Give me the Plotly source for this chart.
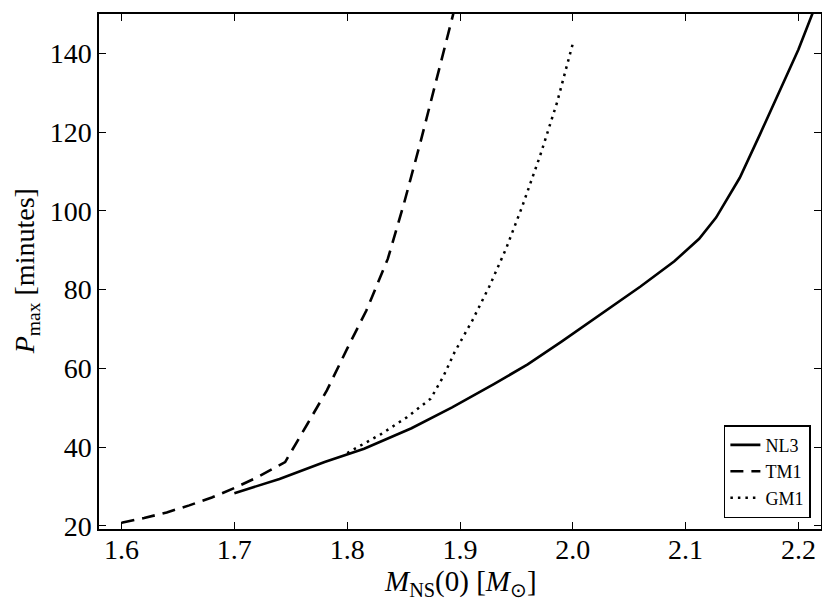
import plotly.graph_objects as go

# NL3 (solid)
nl3_x = [1.70, 1.74, 1.78, 1.815, 1.857, 1.893, 1.93, 1.96, 1.99, 2.03, 2.06, 2.09, 2.112, 2.127, 2.148, 2.166, 2.185, 2.20, 2.215]
nl3_y = [28.3, 31.9, 36.2, 39.6, 44.8, 50.1, 56.0, 61.0, 66.8, 74.7, 80.8, 87.2, 92.9, 98.3, 108.4, 119.5, 131.5, 141.0, 152.0]

# TM1 (dashed)
tm1_x = [1.60, 1.62, 1.64, 1.66, 1.68, 1.70, 1.72, 1.745, 1.765, 1.782, 1.80, 1.817, 1.836, 1.850, 1.865, 1.880, 1.894, 1.898]
tm1_y = [20.8, 22.0, 23.4, 25.2, 27.2, 29.6, 32.3, 36.2, 46.0, 54.4, 65.0, 74.7, 87.8, 101.5, 117.5, 134.0, 150.0, 155.0]

# GM1 (dotted)
gm1_x = [1.80, 1.83, 1.853, 1.874, 1.885, 1.895, 1.911, 1.926, 1.941, 1.955, 1.971, 1.986, 2.0]
gm1_y = [38.5, 43.3, 47.6, 52.3, 57.8, 64.0, 72.2, 80.8, 90.5, 101.0, 114.0, 127.5, 142.5]

x_ticks = [1.6, 1.7, 1.8, 1.9, 2.0, 2.1, 2.2]
x_tick_labels = ["1.6", "1.7", "1.8", "1.9", "2.0", "2.1", "2.2"]
y_ticks = [20, 40, 60, 80, 100, 120, 140]

x_title = "<i>M</i><sub>NS</sub>(0) [<i>M</i><sub>⊙</sub>]"
y_title = "<i>P</i><sub>max</sub> [minutes]"

font_family = "Liberation Serif"

fig = go.Figure()
fig.add_trace(go.Scatter(x=nl3_x, y=nl3_y, mode="lines", name="NL3",
                         line=dict(color="black", width=2.6, dash="solid")))
fig.add_trace(go.Scatter(x=tm1_x, y=tm1_y, mode="lines", name="TM1",
                         line=dict(color="black", width=2.6, dash="13px,8px")))
fig.add_trace(go.Scatter(x=gm1_x, y=gm1_y, mode="lines", name="GM1",
                         line=dict(color="black", width=2.5, dash="2.5px,5px")))

axis_common = dict(
    showgrid=False, zeroline=False, showline=True, linecolor="black", linewidth=1.5,
    mirror="ticks", ticks="inside", ticklen=7, tickwidth=1, tickcolor="black",
    tickfont=dict(family=font_family, size=28, color="black"),
)

# figure is 822x601; the page body adds an 8px margin on the top/left
fig.update_layout(
    width=822, height=601,
    margin=dict(l=91, r=9, t=4, b=80),
    paper_bgcolor="white", plot_bgcolor="white",
    font=dict(family=font_family, color="black"),
    xaxis=dict(range=[1.58, 2.22], tickvals=x_ticks, ticktext=x_tick_labels,
               ticklabelstandoff=-5, **axis_common),
    yaxis=dict(range=[19.2, 150], tickvals=y_ticks, **axis_common),
    legend=dict(x=0.986, y=0.021, xanchor="right", yanchor="bottom",
                bordercolor="black", borderwidth=1.5, bgcolor="white",
                font=dict(family=font_family, size=18, color="black"),
                tracegroupgap=0, itemwidth=30),
    showlegend=True,
    annotations=[
        dict(text=x_title, xref="paper", yref="paper", x=0.5, y=-0.104,
             xanchor="center", yanchor="middle", showarrow=False,
             font=dict(family=font_family, size=29, color="black")),
        dict(text=y_title, xref="paper", yref="paper", x=-0.1,
             y=0.5, xanchor="center", yanchor="middle", textangle=-90, showarrow=False,
             font=dict(family=font_family, size=28, color="black")),
    ],
)

fig.write_html("out.html")
